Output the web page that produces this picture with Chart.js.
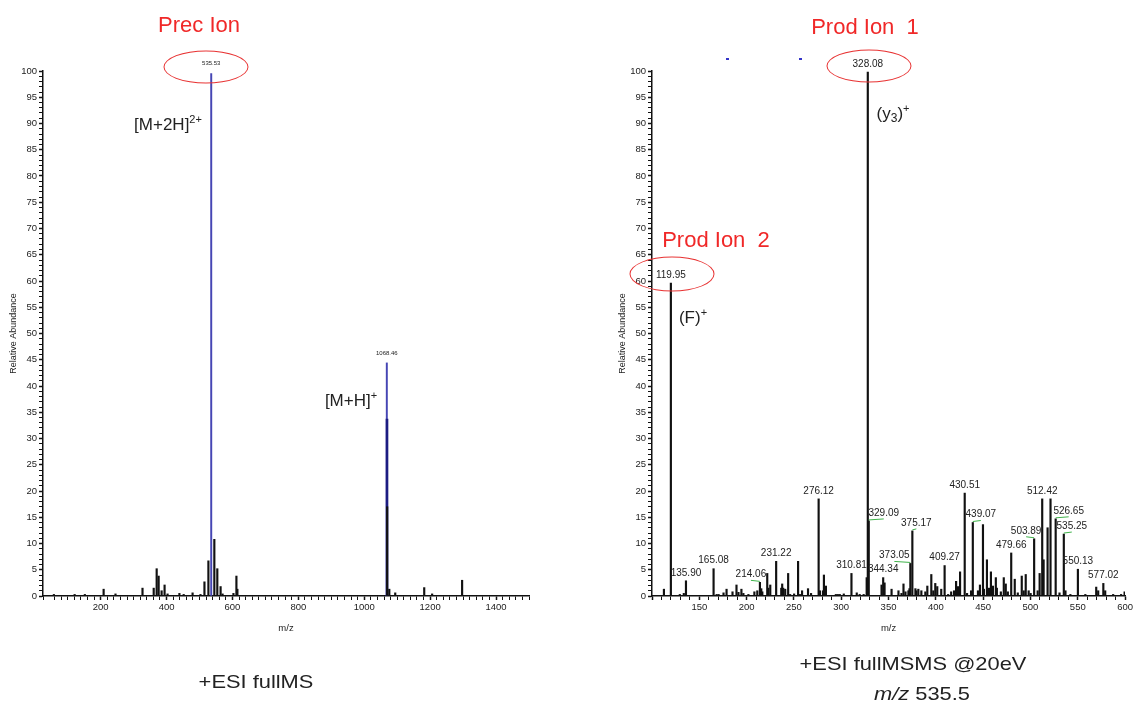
<!DOCTYPE html>
<html>
<head>
<meta charset="utf-8">
<script src="https://cdn.jsdelivr.net/npm/chart.js@4.4.0/dist/chart.umd.min.js"></script>
<style>
  body { margin: 0; background: #fff; }
  #page { position: relative; width: 1135px; height: 708px; overflow: hidden; font-family: "Liberation Sans", Arial, sans-serif; }
  #leftChart { position: absolute; left: 0; top: 0; }
  #rightChart { position: absolute; left: 570px; top: 0; }
  .note { position: absolute; white-space: nowrap; color: #222; font-size: 17px; transform: translate(-50%, -50%); }
  .red { color: #f02828; font-size: 22px; }
  .cap { font-size: 19px; transform: translate(-50%, -50%) scaleX(1.15); }
  .ring { position: absolute; border: 1.5px solid #e83434; border-radius: 50%; transform: translate(-50%, -50%); }
  .dot { position: absolute; width: 3px; height: 2px; background: #3434c8; }
  sup { font-size: 11px; vertical-align: 7px; }
  sub { font-size: 12px; vertical-align: -3px; }
</style>
</head>
<body>
<div id="page">
  <canvas id="leftChart" width="560" height="708"></canvas>
  <canvas id="rightChart" width="565" height="708"></canvas>

  <div class="note red" style="left:199px;top:25px">Prec Ion</div>
  <div class="note red" style="left:865px;top:27px">Prod Ion&nbsp; 1</div>
  <div class="note red" style="left:716px;top:240px">Prod Ion&nbsp; 2</div>
  <div class="ring" style="left:206px;top:67px;width:83px;height:31px"></div>
  <div class="ring" style="left:869px;top:66px;width:83px;height:31px"></div>
  <div class="ring" style="left:672px;top:274px;width:83px;height:33px"></div>

  <div class="note" style="left:168px;top:124px">[M+2H]<sup>2+</sup></div>
  <div class="note" style="left:351px;top:400px">[M+H]<sup>+</sup></div>
  <div class="note" style="left:893px;top:113px">(y<sub>3</sub>)<sup>+</sup></div>
  <div class="note" style="left:693px;top:317px">(F)<sup>+</sup></div>

  <div class="note cap" style="left:256px;top:682px">+ESI fullMS</div>
  <div class="note cap" style="left:913px;top:664px">+ESI fullMSMS @20eV</div>
  <div class="note cap" style="left:922px;top:694px"><i>m/z</i> 535.5</div>

  <div class="dot" style="left:726px;top:58px"></div>
  <div class="dot" style="left:799px;top:58px"></div>
</div>

<script>
// --- datos del espectro completo (fullMS) ---
const leftMainMz    = [535.53, 1068.46];
const leftMainAbund = [99.5, 44.4];
const leftIsoMz     = [1069.0];
const leftIsoAbund  = [33.7];
const leftMinorMz    = [58, 121, 152, 209, 245, 327, 361, 370, 376, 385, 394, 403, 439, 452, 479, 503,
                        515, 527, 545, 554, 564, 570, 603, 612, 615, 1069.6, 1076, 1094, 1182, 1206, 1297];
const leftMinorAbund = [0.3, 0.3, 0.3, 1.3, 0.4, 1.5, 1.5, 5.2, 3.8, 1.0, 2.1, 0.4, 0.5, 0.3, 0.6, 0.3,
                        2.7, 6.7, 10.8, 5.2, 1.8, 0.4, 0.5, 3.8, 1.3, 17.0, 1.3, 0.6, 1.6, 0.4, 3.0];
const leftLabels = [535.53, 1068.46];

// --- datos del espectro MS/MS ---
const rightMz = [
  112.6, 119.95, 129.4, 133.6, 135.90, 165.08, 168.3, 170.4, 175.6, 178.8, 185.1, 189.3, 191.4, 194.5, 196.6,
  201.9, 208.2, 211.3, 214.06, 215.5, 216.6, 221.8, 222.9, 225.0, 231.22, 236.6, 237.6, 238.7, 240.8, 243.9,
  246.0, 250.2, 254.4, 256.5, 258.6, 264.9, 268.1, 276.12, 277.5, 280.7, 281.7, 283.8, 294.3, 296.4, 298.5,
  302.7, 310.81, 316.4, 319.5, 323.7, 326.9, 328.08, 329.09, 342.6, 344.34, 345.8, 353.2, 360.5, 363.7, 365.8,
  367.9, 371.0, 372.1, 373.05, 375.17, 378.4, 379.4, 381.5, 384.7, 388.9, 391.0, 395.2, 397.3, 399.4, 401.5,
  405.7, 409.27, 413.0, 416.2, 419.3, 421.4, 423.5, 425.6, 430.51, 433.0, 437.2, 439.07, 444.5, 446.6, 449.8,
  450.8, 454.0, 456.1, 458.2, 460.3, 463.4, 464.5, 468.7, 471.8, 473.9, 476.1, 479.66, 483.4, 486.6, 490.8,
  492.9, 495.0, 498.1, 500.2, 503.89, 507.6, 509.7, 512.42, 513.9, 518.1, 521.2, 526.65, 530.7, 535.25, 537.0,
  542.2, 550.13, 558.0, 569.5, 571.6, 577.02, 579.0, 587.4, 595.8, 599.5
];
const rightAbund = [
  1.3, 59.6, 0.3, 0.5, 2.9, 5.2, 0.3, 0.3, 0.6, 1.3, 0.8, 2.1, 0.7, 1.3, 0.5,
  0.3, 0.8, 1.0, 2.6, 1.4, 0.8, 4.3, 1.5, 2.1, 6.6, 1.5, 2.3, 1.5, 1.3, 4.3,
  0.3, 0.4, 6.6, 0.3, 1.0, 1.4, 0.5, 18.5, 1.0, 1.0, 4.0, 1.9, 0.3, 0.3, 0.3,
  0.4, 4.3, 0.6, 0.3, 0.3, 3.5, 99.8, 14.3, 2.1, 3.5, 2.5, 1.3, 1.0, 0.5, 2.3,
  0.8, 1.0, 1.4, 6.2, 12.4, 1.4, 1.0, 1.3, 1.0, 0.8, 1.9, 4.1, 1.0, 2.4, 1.8,
  1.3, 5.8, 0.3, 0.8, 1.0, 2.8, 1.8, 4.6, 19.6, 0.5, 1.0, 14.0, 1.0, 2.1, 13.6,
  1.3, 6.9, 1.5, 4.6, 1.9, 3.5, 1.5, 0.8, 3.5, 2.3, 0.8, 8.2, 3.2, 0.6, 3.8,
  1.0, 4.1, 1.0, 0.5, 10.9, 1.0, 4.3, 18.5, 6.9, 13.0, 18.5, 14.7, 0.6, 11.8, 1.0,
  0.3, 5.1, 0.3, 1.7, 1.0, 2.4, 1.0, 0.3, 0.3, 0.8
];
const rightLabels = [119.95, 135.90, 165.08, 214.06, 231.22, 276.12, 310.81, 328.08, 329.09, 344.34, 373.05,
                     375.17, 409.27, 430.51, 439.07, 479.66, 503.89, 512.42, 526.65, 535.25, 550.13, 577.02];

// desplazamiento horizontal (px) de las etiquetas que llevan línea guía
const labelShift = { '214.06': -9, '329.09': 15, '373.05': -16, '375.17': 4, '439.07': 8,
                     '503.89': -8, '526.65': 13, '535.25': 8 };

const FONT = "'Liberation Sans',Arial,sans-serif";
const toPoints = (mz, ab) => mz.map((m, i) => ({ x: m, y: ab[i] }));

// Plugin para escribir el m/z encima de cada pico
const peakLabels = {
  id: 'peakLabels',
  afterDatasetsDraw(chart, args, opts) {
    const { ctx, scales: { x, y } } = chart;
    const pts = chart.data.datasets.flatMap(d => d.data);
    ctx.save();
    ctx.font = opts.font;
    ctx.fillStyle = '#222';
    ctx.textAlign = 'center';
    ctx.textBaseline = 'bottom';
    opts.labels.forEach(mz => {
      const p = pts.find(pt => pt.x === mz);
      if (!p) return;
      const px = x.getPixelForValue(mz);
      const py = y.getPixelForValue(p.y);
      const dx = (opts.shift || {})[mz.toFixed(2)] || 0;
      if (dx) {
        ctx.strokeStyle = '#3fb34a';
        ctx.lineWidth = 1;
        ctx.beginPath();
        ctx.moveTo(px, py - 1);
        ctx.lineTo(px + dx, py - 2);
        ctx.stroke();
      }
      ctx.fillText(mz.toFixed(2), px + dx, py - opts.gap);
    });
    ctx.restore();
  }
};

function spectrumOptions(xMin, xMax, xStep, xLabelEvery, padding, labelOpts) {
  return {
    responsive: false,
    animation: false,
    layout: { padding: padding },
    plugins: { legend: { display: false }, tooltip: { enabled: false }, peakLabels: labelOpts },
    scales: {
      x: {
        type: 'linear', min: xMin, max: xMax, offset: false,
        grid: { drawOnChartArea: false, offset: false, tickLength: 4, tickColor: '#111',
                tickWidth: c => (c.tick && c.tick.value % xLabelEvery === 0 ? 1.5 : 1) },
        border: { color: '#111', width: 1.5 },
        ticks: { stepSize: xStep, autoSkip: false, maxRotation: 0, padding: 2, color: '#222',
                 font: { family: FONT, size: 9.5 },
                 callback: v => (v % xLabelEvery === 0 && v !== xMin ? v : '') },
        title: { display: true, text: 'm/z', color: '#222', font: { family: FONT, size: 9.5 }, padding: 2 },
        afterFit: s => { s.height = 40; }
      },
      y: {
        min: 0, max: 100,
        grid: { drawOnChartArea: false, tickLength: 4, tickColor: '#111',
                tickWidth: c => (c.tick && c.tick.value % 5 === 0 ? 1.5 : 1) },
        border: { color: '#111', width: 1.5 },
        ticks: { stepSize: 1, autoSkip: false, padding: 2, color: '#222',
                 font: { family: FONT, size: 9.5 },
                 callback: v => (v % 5 === 0 ? v : '') },
        title: { display: true, text: 'Relative Abundance', color: '#222', font: { family: FONT, size: 9 }, padding: 2 },
        afterFit: s => { s.width = 37; }
      }
    }
  };
}

// --- gráfica izquierda: fullMS ---
new Chart(document.getElementById('leftChart'), {
  type: 'bar',
  data: {
    datasets: [
      { data: toPoints(leftMinorMz, leftMinorAbund), backgroundColor: '#111', barThickness: 1.5, grouped: false },
      { data: toPoints(leftIsoMz, leftIsoAbund), backgroundColor: '#1c1c82', barThickness: 2, grouped: false },
      { data: toPoints(leftMainMz, leftMainAbund), backgroundColor: '#4646b4', barThickness: 1.3, grouped: false }
    ]
  },
  options: spectrumOptions(25, 1500, 20, 200, { left: 6, top: 71, right: 31, bottom: 72 },
                           { labels: leftLabels, font: "6px " + FONT, gap: 7 }),
  plugins: [peakLabels]
});

// --- gráfica derecha: fullMSMS ---
new Chart(document.getElementById('rightChart'), {
  type: 'bar',
  data: {
    datasets: [
      { data: toPoints(rightMz, rightAbund), backgroundColor: '#111', barThickness: 1.5, grouped: false }
    ]
  },
  options: spectrumOptions(100, 600, 10, 50, { left: 45, top: 71, right: 8, bottom: 72 },
                           { labels: rightLabels, shift: labelShift, font: "10px " + FONT, gap: 3 }),
  plugins: [peakLabels]
});
</script>
</body>
</html>
